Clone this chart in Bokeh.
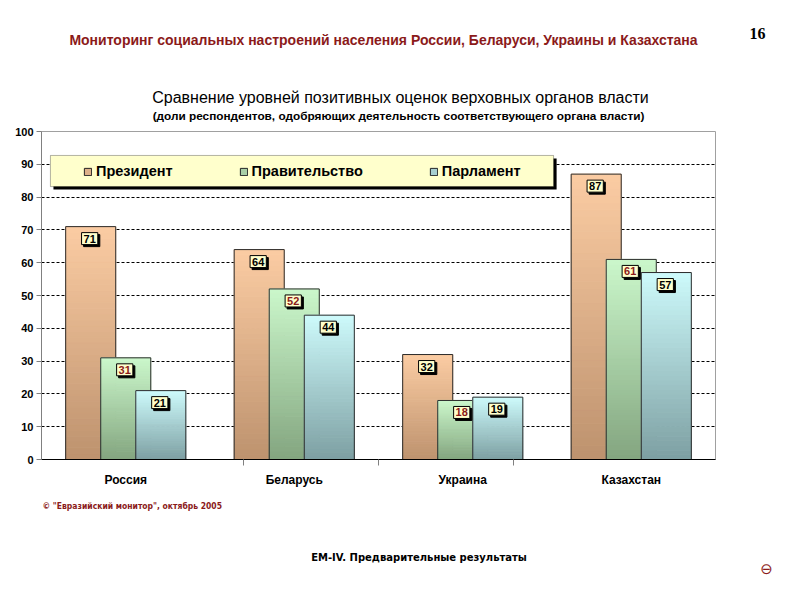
from bokeh.plotting import figure
from bokeh.layouts import column
from bokeh.models import (Range1d, FactorRange, ColumnDataSource, Legend, LegendItem,
                          BoxAnnotation, CategoricalAxis, FixedTicker)
from bokeh.transform import dodge
from bokeh.core.properties import value
from bokeh.embed import file_html
from bokeh.resources import INLINE

# ---------------- data ----------------
countries = ["Россия", "Беларусь", "Украина", "Казахстан"]
president = [71, 64, 32, 87]
government = [31, 52, 18, 61]
parliament = [21, 44, 19, 57]
series_names = ["Президент", "Правительство", "Парламент"]
y_ticks = [0, 10, 20, 30, 40, 50, 60, 70, 80, 90, 100]

header = "Мониторинг социальных настроений населения России, Беларуси, Украины и Казахстана"
page_no = "16"
chart_title = "Сравнение уровней позитивных оценок верховных органов власти"
chart_subtitle = "(доли респондентов, одобряющих деятельность соответствующего органа власти)"
copyright_text = "© \"Евразийский монитор\", октябрь 2005"
footer_text = "EM-IV.  Предварительные  результаты"

# ---------------- styles ----------------
series_values = [president, government, parliament]
top_colors = ["#FBCCA3", "#CBF7CB", "#CDFAFB"]
bottom_colors = ["#BD926E", "#83A57F", "#7D9FA2"]
label_colors = ["#000000", "#8B1A1A", "#000000"]
offsets = [-0.208, 0.0, 0.208]
bar_w = 0.297
N = 40
DARK_RED = "#8B1A1A"
PAGE_W = 800
TOP_H = 124
BOTTOM_H = 109


def text_fig(h):
    f = figure(width=PAGE_W, height=h, x_range=Range1d(0, PAGE_W), y_range=Range1d(h, 0),
               x_axis_type=None, y_axis_type=None, output_backend="svg", toolbar_location=None,
               min_border=0, outline_line_color=None, background_fill_color="white",
               border_fill_color="white")
    f.frame_align = False
    f.grid.visible = False
    return f


def put(f, text, x, y, font, size, style="normal", color="#000000", align="center"):
    f.text(x=[x], y=[y], text=[text], text_font=value(font), text_font_size=size,
           text_font_style=style, text_color=color, text_align=align, text_baseline="middle")


# ---------------- header ----------------
top = text_fig(TOP_H)
put(top, header, 383, 39, "Liberation Sans", "14px", "bold", DARK_RED)
put(top, page_no, 757, 33, "Liberation Serif", "16px", "bold")
put(top, chart_title, 400, 97, "Liberation Sans", "16px")
put(top, chart_subtitle, 398, 115, "Liberation Sans", "11.8px", "bold")

# ---------------- chart ----------------
p = figure(frame_width=674, frame_height=328, x_range=FactorRange(*countries, range_padding=0),
           y_range=Range1d(0, 100), output_backend="svg", toolbar_location=None,
           min_border_left=41, min_border_right=85, min_border_top=7, min_border_bottom=32,
           background_fill_color="white", border_fill_color="white")
p.frame_align = False
p.outline_line_color = "#A0A0A0"
p.xgrid.visible = False
p.ygrid.ticker = FixedTicker(ticks=y_ticks[1:-1])
p.ygrid.grid_line_color = "#000000"
p.ygrid.grid_line_dash = "3 2"
p.ygrid.grid_line_width = 1

p.yaxis.ticker = FixedTicker(ticks=y_ticks)
p.yaxis.axis_line_color = "#808080"
p.yaxis.major_tick_line_color = "#808080"
p.yaxis.major_tick_out = 5
p.yaxis.major_tick_in = 0
p.yaxis.minor_tick_line_color = None
p.yaxis.major_label_text_font = "Liberation Sans"
p.yaxis.major_label_text_font_style = "bold"
p.yaxis.major_label_text_font_size = "11px"
p.yaxis.major_label_text_color = "#000000"
p.yaxis.major_label_standoff = 3

cat_axis = p.xaxis[0]
cat_axis.axis_line_color = None
cat_axis.major_tick_line_color = None
cat_axis.major_tick_out = 0
cat_axis.major_tick_in = 0
cat_axis.major_label_text_font = "Liberation Sans"
cat_axis.major_label_text_font_style = "bold"
cat_axis.major_label_text_font_size = "12px"
cat_axis.major_label_text_color = "#000000"
cat_axis.major_label_standoff = 7

# ticks between categories
boundaries = ["b%d" % i for i in range(1, len(countries))]
p.extra_x_ranges = {"bounds": FactorRange(*boundaries, range_padding=1, range_padding_units="absolute")}
b_axis = CategoricalAxis(x_range_name="bounds")
b_axis.axis_line_color = "#000000"
b_axis.major_tick_line_color = "#808080"
b_axis.major_tick_out = 6
b_axis.major_tick_in = 0
b_axis.major_label_text_font_size = "1px"
b_axis.major_label_text_alpha = 0
b_axis.major_label_standoff = 0
p.add_layout(b_axis, "below")
p.below = [b_axis, cat_axis]


def mix(c1, c2, t):
    a = [int(c1[i:i + 2], 16) for i in (1, 3, 5)]
    b = [int(c2[i:i + 2], 16) for i in (1, 3, 5)]
    return "#%02x%02x%02x" % tuple(round(a[k] + (b[k] - a[k]) * t) for k in range(3))


# bars with vertical gradient (slice rows ordered so that the first rows hold mid-tone slices)
order = [N // 2] + [i for i in range(N) if i != N // 2]
legend_refs = []
for s, vals in enumerate(series_values):
    xs, bots, tops, cols = [], [], [], []
    for i in order:
        for c, v in zip(countries, vals):
            xs.append(c)
            bots.append(v * i / N)
            tops.append(v * (i + 1) / N)
            cols.append(mix(bottom_colors[s], top_colors[s], (i + 0.5) / N))
    src = ColumnDataSource(dict(x=xs, bottom=bots, top=tops, color=cols))
    r_fill = p.vbar(x=dodge("x", offsets[s], range=p.x_range), bottom="bottom", top="top",
                    width=bar_w, source=src, fill_color="color", line_color="color", line_width=1)
    osrc = ColumnDataSource(dict(x=countries, top=vals))
    r_line = p.vbar(x=dodge("x", offsets[s], range=p.x_range), top="top", width=bar_w, source=osrc,
                    fill_color=None, line_color="#2b2b2b", line_width=1)
    legend_refs.append([r_fill, r_line])

# value labels
for s, vals in enumerate(series_values):
    lsrc = ColumnDataSource(dict(x=countries, y=vals, t=[str(v) for v in vals]))
    xt = dodge("x", offsets[s] - 0.006, range=p.x_range)
    p.text(x=xt, y="y", text="t", source=lsrc, x_offset=2, y_offset=14,
           text_align="center", text_baseline="middle",
           text_font=value("Liberation Sans"), text_font_style="bold", text_font_size="11px",
           text_color="#000000", background_fill_color="#000000", padding=2,
           border_line_color="#000000")
    p.text(x=xt, y="y", text="t", source=lsrc, x_offset=0, y_offset=12,
           text_align="center", text_baseline="middle",
           text_font=value("Liberation Sans"), text_font_style="bold", text_font_size="11px",
           text_color=label_colors[s], background_fill_color="#FFFFCC", padding=2,
           border_line_color="#000000", border_line_width=1)

# legend box with shadow
p.add_layout(BoxAnnotation(left=0.071, right=3.057, top=91.8, bottom=82.3,
                           fill_color="#000000", fill_alpha=1, line_color=None))
p.add_layout(BoxAnnotation(left=0.053, right=3.039, top=92.7, bottom=83.2,
                           fill_color="#FFFFCC", fill_alpha=1, line_color="#000000", line_width=1))

items = [LegendItem(label=name, renderers=legend_refs[s], index=0)
         for s, name in enumerate(series_names)]
legend = Legend(items=items, orientation="horizontal", location=(37, 273),
                background_fill_alpha=0, border_line_alpha=0, padding=5, spacing=66,
                label_standoff=4, glyph_width=9, glyph_height=9, label_height=20,
                label_text_font="Liberation Sans", label_text_font_size="14.5px",
                label_text_font_style="bold", label_text_color="#000000", margin=0)
p.add_layout(legend, "center")

# ---------------- footer ----------------
bottom = text_fig(BOTTOM_H)
put(bottom, copyright_text, 42, 14, "DejaVu Sans Condensed", "8.5px", "bold", DARK_RED, "left")
put(bottom, footer_text, 422, 66, "DejaVu Sans", "10px", "bold")
put(bottom, "⊖", 766, 77, "DejaVu Sans", "15px", "normal", DARK_RED)

layout = column(top, p, bottom, spacing=0)
open("out.html", "w").write(file_html(layout, INLINE))
